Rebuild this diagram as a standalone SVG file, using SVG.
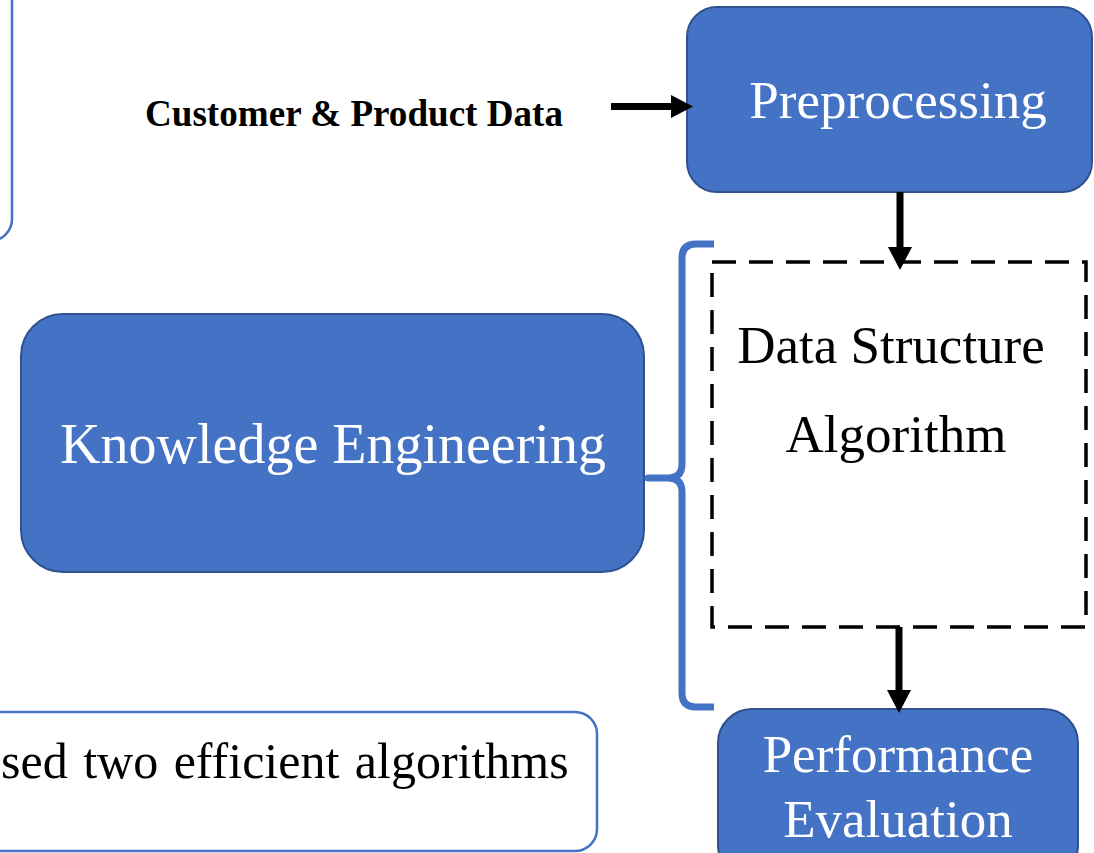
<svg xmlns="http://www.w3.org/2000/svg" width="1094" height="853" viewBox="0 0 1094 853">
<style>
.blue{fill:#4472C4;stroke:#2F528F;stroke-width:2}
.outline{fill:#FFFFFF;stroke:#4472C4;stroke-width:2.5}
.wt{font-family:"Liberation Serif","Times New Roman",serif;fill:#FFFFFF;text-anchor:middle}
.bt{font-family:"Liberation Serif","Times New Roman",serif;fill:#000000}
.shaft{stroke:#000000;stroke-width:7;fill:none}
.head{fill:#000000}
</style>
<rect x="0" y="0" width="1094" height="853" fill="#FFFFFF"/>
<g id="top-left-box">
<rect class="outline" x="-40" y="-40" width="52" height="281" rx="22"/>
</g>
<g id="input-label">
<text class="bt" x="145" y="126" font-size="37" font-weight="bold" textLength="418" lengthAdjust="spacingAndGlyphs">Customer &amp; Product Data</text>
</g>
<g id="preprocessing">
<rect class="blue" x="687" y="7" width="405" height="185" rx="30"/>
<text class="wt" x="898" y="118" font-size="53">Preprocessing</text>
</g>
<g id="data-structure">
<rect x="712" y="262" width="374" height="365" fill="none" stroke="#000000" stroke-width="3.5" stroke-dasharray="24 13"/>
<text class="bt" x="891" y="363" font-size="53" text-anchor="middle">Data Structure</text>
<text class="bt" x="896" y="452" font-size="53" text-anchor="middle">Algorithm</text>
</g>
<g id="knowledge-engineering">
<rect class="blue" x="21" y="314" width="623" height="258" rx="42"/>
<text class="wt" x="333" y="463" font-size="56">Knowledge Engineering</text>
</g>
<g id="brace">
<path d="M714,244 L696,244 Q682,244 682,258 L682,464 Q682,478 668,478 L648,478 L668,478 Q682,478 682,492 L682,693 Q682,707 696,707 L714,707" fill="none" stroke="#4472C4" stroke-width="7" stroke-linejoin="round"/>
</g>
<g id="bottom-left-box">
<rect class="outline" x="-40" y="712" width="637" height="139" rx="22"/>
<text class="bt" x="1" y="778" font-size="50" word-spacing="3">sed two efficient algorithms</text>
</g>
<g id="performance-evaluation">
<rect class="blue" x="718" y="709" width="360" height="170" rx="34"/>
<text class="wt" x="898" y="772" font-size="53">Performance</text>
<text class="wt" x="898" y="837" font-size="53">Evaluation</text>
</g>
<g id="connectors">
<path class="shaft" d="M611,106.5 L674,106.5"/>
<polygon class="head" points="671,95 693,106.5 671,118"/>
<path class="shaft" d="M900,192 L900,249"/>
<polygon class="head" points="888,247 912,247 900,270"/>
<path class="shaft" d="M899,627 L899,692"/>
<polygon class="head" points="887,690 911,690 899,713"/>
</g>
</svg>
